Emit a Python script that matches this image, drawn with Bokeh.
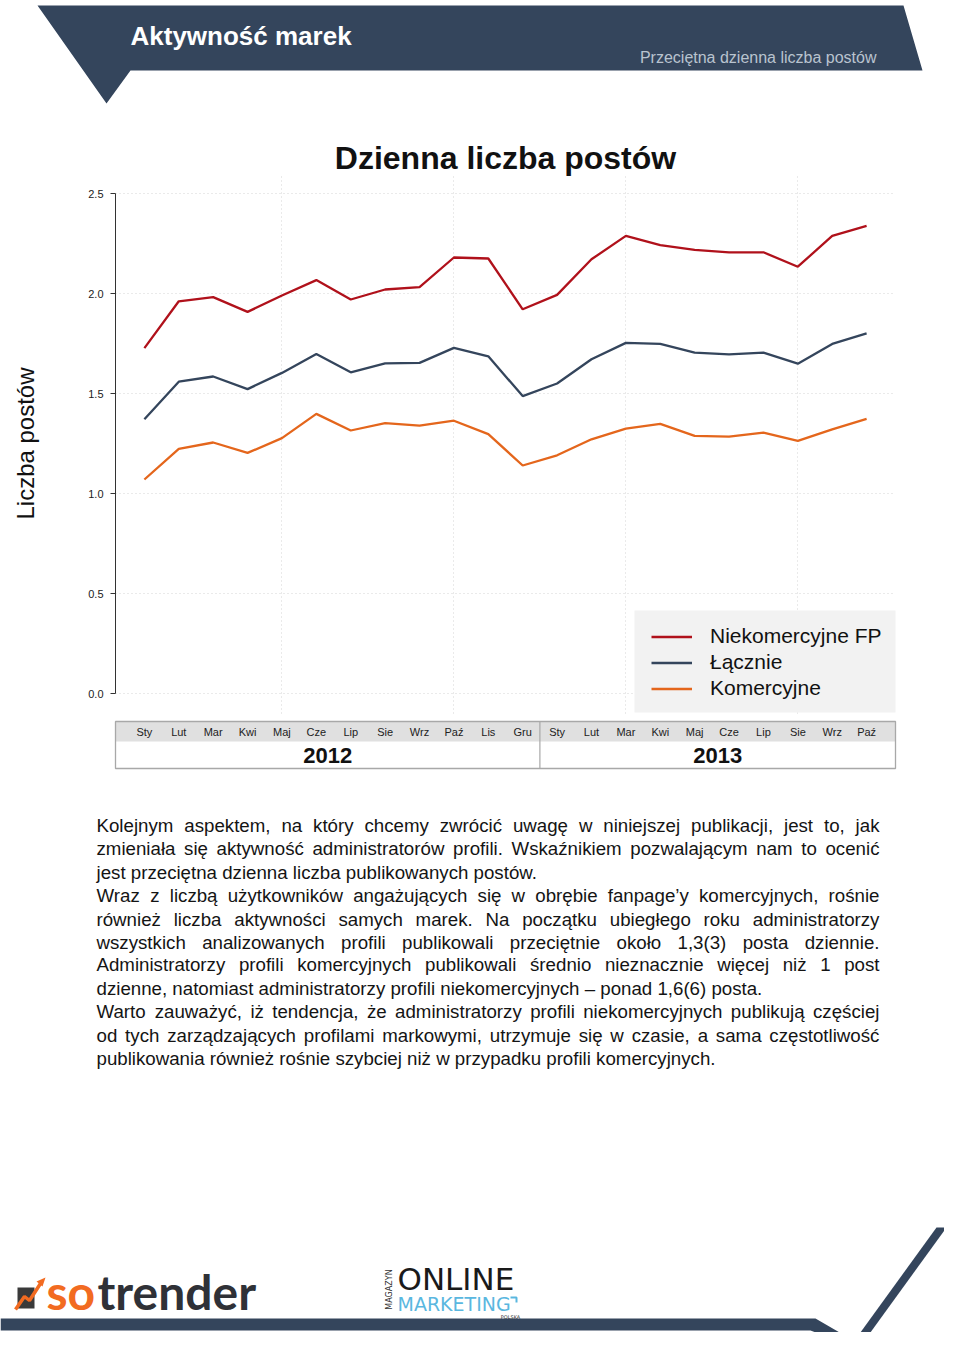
from bokeh.plotting import figure
from bokeh.models import Range1d, FixedTicker, PrintfTickFormatter, Grid, LinearAxis
from bokeh.core.properties import value
from bokeh.embed import file_html
from bokeh.resources import INLINE

# ---------------- data ----------------
months = ["Sty", "Lut", "Mar", "Kwi", "Maj", "Cze", "Lip", "Sie", "Wrz", "Paź", "Lis", "Gru",
          "Sty", "Lut", "Mar", "Kwi", "Maj", "Cze", "Lip", "Sie", "Wrz", "Paź"]
years = ["2012", "2013"]
months_per_year = [12, 10]

niekomercyjne = [1.727, 1.961, 1.982, 1.908, 1.990, 2.067, 1.970, 2.020, 2.032, 2.180, 2.175, 1.921,
                 1.993, 2.171, 2.288, 2.242, 2.218, 2.206, 2.206, 2.134, 2.288, 2.338]
lacznie = [1.371, 1.559, 1.585, 1.522, 1.603, 1.698, 1.606, 1.651, 1.653, 1.728, 1.686, 1.487,
           1.550, 1.671, 1.753, 1.748, 1.704, 1.696, 1.704, 1.649, 1.748, 1.801]
komercyjne = [1.070, 1.223, 1.255, 1.203, 1.277, 1.398, 1.315, 1.352, 1.339, 1.364, 1.297, 1.140,
              1.191, 1.271, 1.324, 1.348, 1.288, 1.284, 1.304, 1.263, 1.321, 1.373]

series_names = ["Niekomercyjne FP", "Łącznie", "Komercyjne"]
series_values = [niekomercyjne, lacznie, komercyjne]
series_colors = ["#b0111b", "#34455c", "#e4661c"]

y_ticks = [0.0, 0.5, 1.0, 1.5, 2.0, 2.5]
x_grid_ticks = [5, 10, 15, 20]

header_title = "Aktywność marek"
header_subtitle = "Przeciętna dzienna liczba postów"
chart_title = "Dzienna liczba postów"
y_label = "Liczba postów"

body_lines = [
    ("Kolejnym aspektem, na który chcemy zwrócić uwagę w niniejszej publikacji, jest to, jak", True),
    ("zmieniała się aktywność administratorów profili. Wskaźnikiem pozwalającym nam to ocenić", True),
    ("jest przeciętna dzienna liczba publikowanych postów.", False),
    ("Wraz z liczbą użytkowników angażujących się w obrębie fanpage’y komercyjnych, rośnie", True),
    ("również liczba aktywności samych marek. Na początku ubiegłego roku administratorzy", True),
    ("wszystkich analizowanych profili publikowali przeciętnie około 1,3(3) posta dziennie.", True),
    ("Administratorzy profili komercyjnych publikowali średnio nieznacznie więcej niż 1 post", True),
    ("dzienne, natomiast administratorzy profili niekomercyjnych – ponad 1,6(6) posta.", False),
    ("Warto zauważyć, iż tendencja, że administratorzy profili niekomercyjnych publikują częściej", True),
    ("od tych zarządzających profilami markowymi, utrzymuje się w czasie, a sama częstotliwość", True),
    ("publikowania również rośnie szybciej niż w przypadku profili komercyjnych.", False),
]

# ---------------- style / layout ----------------
FONT = "Liberation Sans"
NAVY = "#34455c"
W, H = 944, 1332
GRID_COLOR = "#d4d4d4"

# page-pixel canvas (x right, y down)
p = figure(width=W, height=H, x_range=Range1d(0, W), y_range=Range1d(H, 0),
           x_axis_type=None, y_axis_type=None, output_backend="svg", toolbar_location=None,
           min_border=0, min_border_left=0, min_border_right=0, min_border_top=0,
           min_border_bottom=0, outline_line_color=None)

# chart data ranges, placed so the plot region sits at pixels 115..895 x 173..713
PX_L, PX_R, PX_T, PX_B = 115, 895, 173, 713
n = len(months)
xs = list(range(1, n + 1))
pad = 0.04 * (n - 1)
x_lo, x_hi = 1 - pad, n + pad
ypad = 0.04 * (y_ticks[-1] - y_ticks[0])
y_lo, y_hi = y_ticks[0] - ypad, y_ticks[-1] + ypad
kx = (x_hi - x_lo) / (PX_R - PX_L)
ky = (y_hi - y_lo) / (PX_B - PX_T)
p.extra_x_ranges = {"cx": Range1d(x_lo - PX_L * kx, x_hi + (W - PX_R) * kx)}
p.extra_y_ranges = {"cy": Range1d(y_lo - (H - PX_B) * ky, y_hi + PX_T * ky)}

# ---- header ----
p.patch(x=[37, 903, 922, 130, 106], y=[5, 5, 70, 70, 103], fill_color=NAVY, line_color=None)
p.text(x=[130], y=[35], text=[header_title], text_font=value(FONT), text_font_style="bold",
       text_font_size="26px", text_color="white", text_baseline="middle", text_align="left")
p.text(x=[876], y=[57], text=[header_subtitle], text_font=value(FONT),
       text_font_size="16px", text_color="#b9c3cf", text_baseline="middle", text_align="right")
p.text(x=[505], y=[157], text=[chart_title], text_font=value(FONT), text_font_style="bold",
       text_font_size="32px", text_color="#111111", text_baseline="middle", text_align="center")

# ---- chart ----
p.add_layout(Grid(dimension=1, ticker=FixedTicker(ticks=y_ticks), x_range_name="cx", y_range_name="cy",
                  cross_bounds=(x_lo, x_hi), grid_line_color=GRID_COLOR, grid_line_dash="1 3"))
p.add_layout(Grid(dimension=0, ticker=FixedTicker(ticks=x_grid_ticks), x_range_name="cx", y_range_name="cy",
                  cross_bounds=(y_lo, y_hi), grid_line_color=GRID_COLOR, grid_line_dash="1 3"))

yax = LinearAxis(x_range_name="cx", y_range_name="cy", fixed_location=x_lo,
                 ticker=FixedTicker(ticks=y_ticks), formatter=PrintfTickFormatter(format="%.1f"),
                 bounds=(y_ticks[0], y_ticks[-1]))
yax.major_tick_in = 0
yax.major_tick_out = 5
yax.minor_tick_line_color = None
yax.axis_line_color = "#333333"
yax.major_tick_line_color = "#333333"
yax.major_label_standoff = 7
yax.major_label_text_font = FONT
yax.major_label_text_font_size = "11px"
yax.major_label_text_color = "#222222"
yax.axis_label = y_label
yax.axis_label_text_font = FONT
yax.axis_label_text_font_size = "24px"
yax.axis_label_text_font_style = "normal"
yax.axis_label_text_color = "#111111"
yax.axis_label_standoff = 46
p.add_layout(yax, "left")

# legend background box (bottom-right corner of the plot region)
p.quad(left=634, right=PX_R, top=610, bottom=PX_B - 1, fill_color="#f2f2f2", line_color=None)

for name, vals, col in zip(series_names, series_values, series_colors):
    p.line(xs, vals, x_range_name="cx", y_range_name="cy", line_color=col, line_width=2.3,
           legend_label=name)

lg = p.legend[0]
lg.location = (651, H - 700)
lg.margin = 0
lg.padding = 0
lg.glyph_width = 41
lg.glyph_height = 21
lg.label_height = 21
lg.label_standoff = 18
lg.spacing = 2
lg.label_text_font = FONT
lg.label_text_font_size = "21px"
lg.label_text_color = "#111111"
lg.background_fill_alpha = 0.0
lg.border_line_color = None

# ---- month / year strip (x in chart units, y in pixels) ----
p.quad(left=x_lo, right=x_hi, top=721, bottom=741, x_range_name="cx",
       fill_color="#e0e0e0", line_color=None)
bounds = [x_lo]
acc = 0
for c in months_per_year[:-1]:
    acc += c
    bounds.append(acc + 0.5)
bounds.append(x_hi)
p.quad(left=x_lo, right=x_hi, top=721, bottom=768, x_range_name="cx", fill_color=None,
       line_color="#a8a8a8", line_width=1.3)
p.segment(x0=bounds[1:-1], y0=[721] * (len(bounds) - 2), x1=bounds[1:-1], y1=[768] * (len(bounds) - 2),
          x_range_name="cx", line_color="#a8a8a8", line_width=1.2)
p.text(x=xs, y=[731.5] * n, text=months, x_range_name="cx", text_font=value(FONT), text_font_size="11px",
       text_color="#222222", text_align="center", text_baseline="middle")
centers = [(bounds[i] + bounds[i + 1]) / 2 for i in range(len(years))]
p.text(x=centers, y=[755] * len(years), text=years, x_range_name="cx", text_font=value(FONT),
       text_font_style="bold", text_font_size="22px", text_color="#111111", text_align="center",
       text_baseline="middle")

# ---- body text ----
_widths = {}
for chars, wv in [("ijlł’'", 222), (" ,.:;!ftI", 278), ("()-r", 333), ("cksvxyzJćśźż", 500),
                  ("abdeghnopqu0123456789ąęńóLŁ–", 556), ("FTZ", 611), ("ABEKPSVXYŚ", 667),
                  ("CDHNRUw", 722), ("GOQ", 778), ("Mm", 833), ("W", 944)]:
    for ch in chars:
        _widths[ch] = wv


def text_width(txt, fs):
    return sum(_widths.get(ch, 556) for ch in txt) / 1000.0 * fs


FS = 18.7
LX0, LX1 = 96, 879
line_y = [825, 848, 872, 895, 919, 942, 964, 988, 1011, 1035, 1058]
wx, wy, wt = [], [], []
for (line, just), yy in zip(body_lines, line_y):
    if just:
        words = line.split()
        total = sum(text_width(wd, FS) for wd in words)
        gap = (LX1 - LX0 - total) / (len(words) - 1)
        cx = LX0
        for wd in words:
            wx.append(cx)
            wy.append(yy)
            wt.append(wd)
            cx += text_width(wd, FS) + gap
    else:
        wx.append(LX0)
        wy.append(yy)
        wt.append(line)
p.text(x=wx, y=wy, text=wt, text_font=value(FONT), text_font_size="18.7px", text_color="#141414",
       text_align="left", text_baseline="middle")

# ---- footer ----
p.patch(x=[0, 815, 846, 826, 810, 0], y=[1318, 1318, 1336, 1336, 1330, 1330], fill_color=NAVY, line_color=None)
p.patch(x=[857, 867, 946, 936], y=[1336, 1336, 1227, 1227], fill_color=NAVY, line_color=None)

# sotrender logo
p.quad(left=17, right=34, top=1287, bottom=1308, fill_color="#3a3a3a", line_color=None)
p.line(x=[15, 24, 29, 40], y=[1309, 1296, 1300, 1283], line_color="#f26b21", line_width=3.5)
p.patch(x=[36, 45, 42], y=[1281, 1277, 1286], fill_color="#f26b21", line_color=None)
p.text(x=[46], y=[1291], text=["so"], text_font=value("Lato"), text_font_style="bold",
       text_font_size="48px", text_color="#f26b21", text_align="left", text_baseline="middle")
p.text(x=[97], y=[1291], text=["trender"], text_font=value("Lato"), text_font_style="bold",
       text_font_size="48px", text_color="#2f3137", text_align="left", text_baseline="middle")

# online marketing logo
p.text(x=[397], y=[1278], text=["ONLINE"], text_font=value("DejaVu Sans"),
       text_font_size="31px", text_color="#1a1a1a", text_align="left", text_baseline="middle")
p.text(x=[397], y=[1303], text=["MARKETING"], text_font=value("DejaVu Sans"),
       text_font_size="19px", text_color="#5ab7df", text_align="left", text_baseline="middle")
p.line(x=[510, 516, 516], y=[1297, 1297, 1302], line_color="#5ab7df", line_width=2)
p.text(x=[389], y=[1289], text=["MAGAZYN"], text_font=value("DejaVu Sans"), angle=1.5708,
       text_font_size="8px", text_color="#333333", text_align="center", text_baseline="middle")
p.text(x=[510], y=[1316], text=["POLSKA"], text_font=value("DejaVu Sans"),
       text_font_size="5px", text_color="#333333", text_align="center", text_baseline="middle")

open("out.html", "w").write(file_html(p, INLINE))
